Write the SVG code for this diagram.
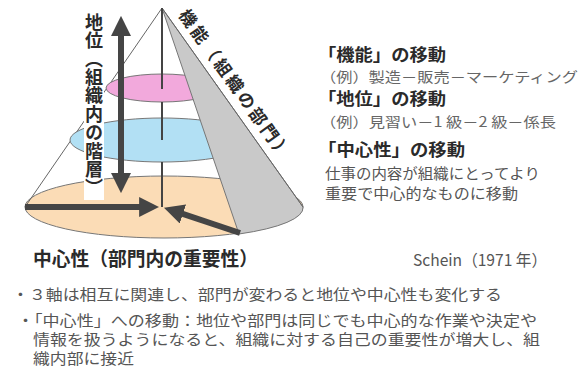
<svg xmlns="http://www.w3.org/2000/svg" width="580" height="382" viewBox="0 0 580 382">
<defs>
<style>
.jp{font-family:"Noto Sans CJK JP","Noto Sans",sans-serif;}
.ttl{font-weight:bold;fill:#2a2a2a;font-size:16.5px;}
.ex{fill:#666;font-size:14px;}
.ds{fill:#555;font-size:14.5px;}
.bl{fill:#555;font-size:15px;}
.edge{fill:none;stroke:#666;stroke-width:1;}
.el{stroke:#777;stroke-width:1;}
.axis{stroke:#444;stroke-width:2;fill:none;}
.arr{stroke:#454545;stroke-width:6;fill:none;marker-end:url(#ah);}
</style>
<marker id="ah" markerUnits="userSpaceOnUse" markerWidth="20" markerHeight="20" viewBox="0 0 18 18" refX="8" refY="9" orient="auto-start-reverse">
<path d="M0,0 L18,9 L0,18 Z" fill="#454545"/>
</marker>
</defs>
<g id="cone">
<ellipse cx="164" cy="207" rx="139" ry="31" fill="#fbdcb6" class="el"/>
<line x1="162" y1="8" x2="25" y2="207" class="edge"/>
<ellipse cx="162" cy="140" rx="92" ry="22" fill="#b2e0f4" class="el"/>
<ellipse cx="162" cy="88" rx="56" ry="14" fill="#f2a9dc" class="el"/>
<path d="M162,8 L239,234 A139,31 0 0 0 303,207 Z" fill="#c9c9c9" stroke="#777" stroke-width="1"/>
<line x1="162" y1="8" x2="303" y2="207" class="edge"/>
<path d="M162,8 V89 M162,102 V140 M162,162 V207" class="axis"/>
</g>
<g id="connectors">
<line x1="121" y1="27" x2="121" y2="182" class="arr" marker-start="url(#ah)"/>
<line x1="25" y1="207" x2="148" y2="207" class="arr"/>
<line x1="240" y1="233" x2="174.5" y2="211.2" class="arr"/>
</g>
<g id="label-status">
<rect x="84" y="10" width="20" height="190" fill="#fff"/>
<text x="94" y="13" class="jp" font-size="18" font-weight="bold" fill="#2a2a2a" style="writing-mode:vertical-rl" letter-spacing="0.4">地位（組織内の階層）</text>
</g>
<g id="label-function">
<text class="jp" font-size="17" font-weight="bold" fill="#2a2a2a" transform="translate(178,15) rotate(54.5)" textLength="178" lengthAdjust="spacing">機能（組織の部門）</text>
</g>
<g id="label-centrality">
<text x="33" y="266" class="jp" font-size="19" font-weight="bold" fill="#2a2a2a" textLength="225" lengthAdjust="spacingAndGlyphs">中心性（部門内の重要性）</text>
</g>
<g id="legend">
<text x="318" y="61" class="jp ttl" textLength="128" lengthAdjust="spacingAndGlyphs">「機能」の移動</text>
<text x="320" y="82" class="jp ex" textLength="258" lengthAdjust="spacingAndGlyphs">（例）製造－販売－マーケティング</text>
<text x="318" y="105" class="jp ttl" textLength="128" lengthAdjust="spacingAndGlyphs">「地位」の移動</text>
<text x="320" y="127" class="jp ex" textLength="236" lengthAdjust="spacingAndGlyphs">（例）見習い－1 級－2 級－係長</text>
<text x="318" y="156" class="jp ttl" textLength="147" lengthAdjust="spacingAndGlyphs">「中心性」の移動</text>
<text x="325" y="179" class="jp ds" textLength="215" lengthAdjust="spacingAndGlyphs">仕事の内容が組織にとってより</text>
<text x="325" y="199" class="jp ds" textLength="193" lengthAdjust="spacingAndGlyphs">重要で中心的なものに移動</text>
</g>
<g id="notes">
<text x="413" y="266" class="jp" font-size="16" fill="#555" textLength="134" lengthAdjust="spacingAndGlyphs">Schein（1971 年）</text>
<text x="12" y="300" class="jp bl" textLength="490" lengthAdjust="spacingAndGlyphs">・３軸は相互に関連し、部門が変わると地位や中心性も変化する</text>
<text x="17" y="326" class="jp bl" textLength="520" lengthAdjust="spacingAndGlyphs">・「中心性」への移動：地位や部門は同じでも中心的な作業や決定や</text>
<text x="33" y="345" class="jp bl" textLength="507" lengthAdjust="spacingAndGlyphs">情報を扱うようになると、組織に対する自己の重要性が増大し、組</text>
<text x="33" y="364" class="jp bl" textLength="101" lengthAdjust="spacingAndGlyphs">織内部に接近</text>
</g>
</svg>
